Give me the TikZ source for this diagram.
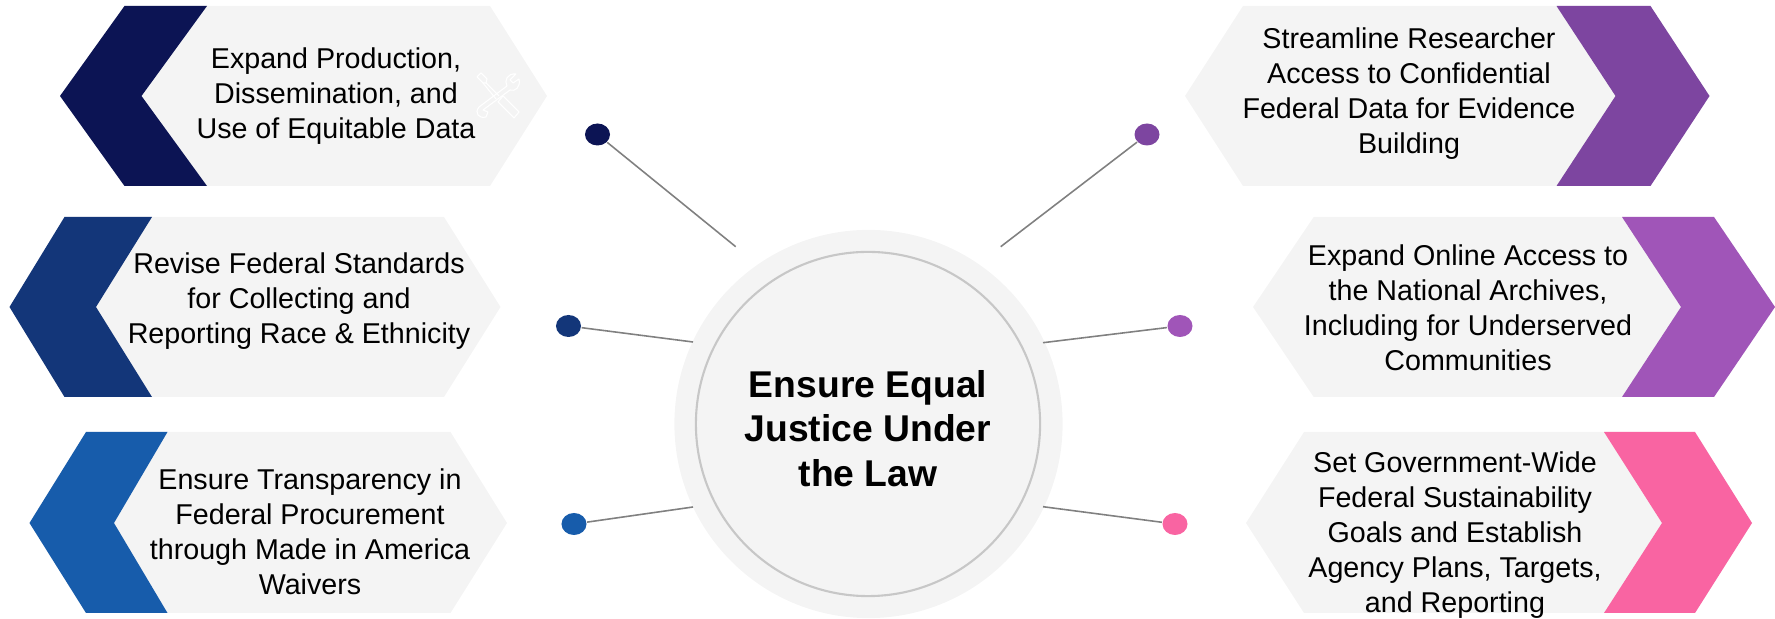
\documentclass[tikz,border=0pt]{standalone}
\usepackage{fontspec}
\setmainfont{Liberation Sans}
\usetikzlibrary{shapes.geometric}
\definecolor{navya}{HTML}{0C1454}
\definecolor{bluea}{HTML}{133679}
\definecolor{blueb}{HTML}{175CAB}
\definecolor{purplea}{HTML}{7D45A0}
\definecolor{purpleb}{HTML}{A055B8}
\definecolor{pinka}{HTML}{F964A2}
\definecolor{panel}{HTML}{F4F4F4}
\begin{document}
\begin{tikzpicture}[x=0.01cm,y=-0.01cm,
    itemtext/.style={align=center,font=\fontsize{8.15}{9.96}\selectfont,inner sep=0},
    pindot/.style={ellipse,minimum width=0.25cm,minimum height=0.22cm,inner sep=0},
    spoke/.style={draw=black!50,line width=0.45pt},
    tool/.style={draw=white,line width=0.3pt,line join=round}]
     \useasboundingbox (0,0) rectangle (1775,619);

     \fill[panel] (124.5,6) -- (490,6) -- (547,96) -- (490,186) -- (124.5,186) -- (60,96) -- cycle;
     \fill[panel] (64.5,217) -- (444,217) -- (500.5,307) -- (444,397) -- (64.5,397) -- (9.5,307) -- cycle;
     \fill[panel] (86,432) -- (450.5,432) -- (507,523) -- (450.5,613) -- (86,613) -- (29.5,523) -- cycle;
     \fill[panel] (1243,6) -- (1650.5,6) -- (1709.5,96) -- (1650.5,186) -- (1243,186) -- (1185,96) -- cycle;
     \fill[panel] (1313.7,217) -- (1714,217) -- (1775,307) -- (1714,397) -- (1313.7,397) -- (1253,307) -- cycle;
     \fill[panel] (1304,432) -- (1695,432) -- (1752,523) -- (1695,613) -- (1304,613) -- (1246,523) -- cycle;

     \fill[navya] (124.5,6) -- (207,6) -- (141.5,96) -- (207,186) -- (124.5,186) -- (60,96) -- cycle;
     \fill[bluea] (64.5,217) -- (152,217) -- (96,307) -- (152,397) -- (64.5,397) -- (9.5,307) -- cycle;
     \fill[blueb] (86,432) -- (167.5,432) -- (114,523) -- (167.5,613) -- (86,613) -- (29.5,523) -- cycle;
     \fill[purplea] (1556.5,6) -- (1650.5,6) -- (1709.5,96) -- (1650.5,186) -- (1556.5,186) -- (1615.5,96) -- cycle;
     \fill[purpleb] (1622,217) -- (1714,217) -- (1775,307) -- (1714,397) -- (1622,397) -- (1681,307) -- cycle;
     \fill[pinka] (1604,432) -- (1695,432) -- (1752,523) -- (1695,613) -- (1604,613) -- (1662,523) -- cycle;

     \draw[tool] (477,77) -- (481,73) -- (487,79) -- (486,83) -- (499,96);
     \draw[tool] (477,77) -- (483,83) -- (486,83);
     \draw[tool] (483,83) -- (496,99);
     \draw[tool] (503,96) -- (519,112) -- (514,118) -- (498,102) -- cycle;
     \draw[tool] (516,74) .. controls (507,73) and (504,81) .. (507,86) -- (479,107) .. controls (474,113) and (479,119) .. (486,117) -- (488,112) -- (483,110) -- (510,90) .. controls (515,92) and (521,87) .. (519,79) -- (513,83) -- (510,80) -- cycle;

     \node[circle,fill=panel,minimum size=3.88cm,inner sep=0] (hubback) at (868.5,424) {};
     \node[circle,draw=black!22,line width=0.6pt,fill=panel,minimum size=3.44cm,inner sep=0] (hub) at (868,424) {};
     \node[align=center,inner sep=0,font=\fontsize{10.6}{12.6}\selectfont\bfseries] (hubtext) at (868,428.5) {Ensure Equal\\Justice Under\\the Law};

     \node[itemtext] (dataitem) at (336,96.5) {Expand Production,\\Dissemination, and\\Use of Equitable Data};
     \node[itemtext] (raceitem) at (299,301) {Revise Federal Standards\\for Collecting and\\Reporting Race \& Ethnicity};
     \node[itemtext] (buyitem) at (310,532) {Ensure Transparency in\\Federal Procurement\\through Made in America\\Waivers};
     \node[itemtext] (accessitem) at (1409,94) {Streamline Researcher\\Access to Confidential\\Federal Data for Evidence\\Building};
     \node[itemtext] (archiveitem) at (1468,308) {Expand Online Access to\\the National Archives,\\Including for Underserved\\Communities};
     \node[itemtext] (goalitem) at (1455,535) {Set Government-Wide\\Federal Sustainability\\Goals and Establish\\Agency Plans, Targets,\\and Reporting};

     \node[pindot,fill=navya] (dota) at (597.5,134.5) {};
     \node[pindot,fill=bluea] (dotb) at (568.5,326) {};
     \node[pindot,fill=blueb] (dotc) at (574,524) {};
     \node[pindot,fill=purplea] (dotd) at (1147,134.5) {};
     \node[pindot,fill=purpleb] (dote) at (1180,326) {};
     \node[pindot,fill=pinka] (dotf) at (1175,524) {};

     \coordinate (enda) at (735.7,246.7);
     \coordinate (endb) at (693,342);
     \coordinate (endc) at (693,507);
     \coordinate (endd) at (1000.7,246.7);
     \coordinate (ende) at (1043,342.7);
     \coordinate (endf) at (1043,506.7);
     \draw[spoke] (dota) -- (enda);
     \draw[spoke] (dotb) -- (endb);
     \draw[spoke] (dotc) -- (endc);
     \draw[spoke] (dotd) -- (endd);
     \draw[spoke] (dote) -- (ende);
     \draw[spoke] (dotf) -- (endf);
    \end{tikzpicture}
\end{document}
